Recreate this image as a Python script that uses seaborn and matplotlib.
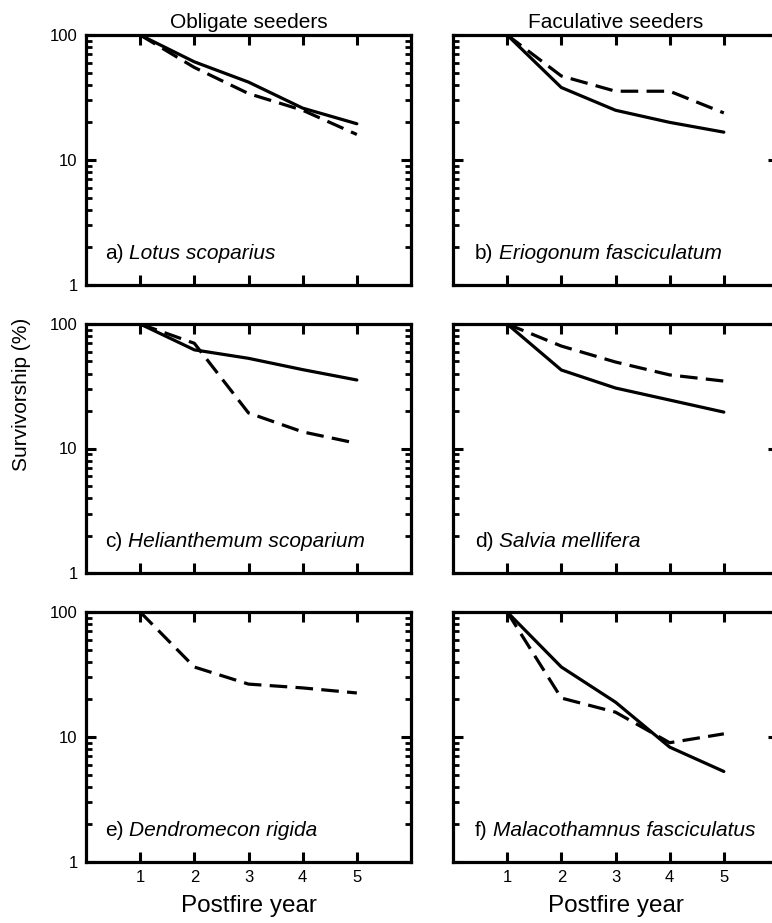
import numpy as np
import pandas as pd
import matplotlib
matplotlib.use("Agg")
import matplotlib.pyplot as plt
import seaborn as sns
from matplotlib.ticker import LogLocator, FixedLocator, FuncFormatter, NullFormatter

# ---------------- data ----------------
years = [1, 2, 3, 4, 5]
column_titles = ["Obligate seeders", "Faculative seeders"]
panel_letters = ["a)", "b)", "c)", "d)", "e)", "f)"]
species = ["Lotus scoparius", "Eriogonum fasciculatum",
           "Helianthemum scoparium", "Salvia mellifera",
           "Dendromecon rigida", "Malacothamnus fasciculatus"]

a_solid = [100, 61, 42, 26, 19.5]
a_dashed = [100, 55, 34, 25, 16]
b_solid = [100, 38, 25, 20, 16.7]
b_dashed = [100, 47, 35.5, 35.5, 23.8]
c_solid = [100, 62, 53, 43, 35.5]
c_dashed = [100, 70, 19.3, 13.6, 11]
d_solid = [100, 42.7, 30.6, 24.5, 19.6]
d_dashed = [100, 66.5, 49.5, 39, 34.8]
e_solid = None
e_dashed = [100, 36.3, 26.5, 24.7, 22.5]
f_solid = [100, 36.3, 19, 8.3, 5.3]
f_dashed = [100, 20.5, 15.8, 9, 10.6]

panels = [(a_solid, a_dashed), (b_solid, b_dashed), (c_solid, c_dashed),
          (d_solid, d_dashed), (e_solid, e_dashed), (f_solid, f_dashed)]

x_ticks = [1, 2, 3, 4, 5]
y_ticks = [1, 10, 100]

# ---------------- style ----------------
sns.set_style("ticks")
plt.rcParams["font.family"] = ["Liberation Sans", "DejaVu Sans"]
plt.rcParams["axes.linewidth"] = 2.3
plt.rcParams["text.color"] = "black"
plt.rcParams["axes.labelcolor"] = "black"
plt.rcParams["xtick.color"] = "black"
plt.rcParams["ytick.color"] = "black"

fig = plt.figure(figsize=(7.72, 9.23), dpi=100)
W, H = 772, 923

col_x = [86, 453]
col_w = 325
rows = [(35, 285), (324, 573), (612, 862)]

dash_map = {"solid": "", "dashed": (5.5, 2.6)}

for i, (solid, dashed) in enumerate(panels):
    r, c = divmod(i, 2)
    top, bot = rows[r]
    ax = fig.add_axes([col_x[c] / W, 1 - bot / H, col_w / W, (bot - top) / H])

    frames = []
    if solid is not None:
        frames.append(pd.DataFrame({"year": years, "surv": solid, "line": "solid"}))
    if dashed is not None:
        frames.append(pd.DataFrame({"year": years, "surv": dashed, "line": "dashed"}))
    df = pd.concat(frames, ignore_index=True)
    present = list(df["line"].unique())
    sns.lineplot(data=df, x="year", y="surv", style="line", style_order=present,
                 dashes={k: dash_map[k] for k in present}, color="black",
                 linewidth=2.3, legend=False, ax=ax, sort=False)

    ax.set_yscale("log")
    ax.set_ylim(1, 100)
    ax.set_xlim(0, 6)
    ax.xaxis.set_major_locator(FixedLocator(x_ticks))
    ax.yaxis.set_major_locator(FixedLocator(y_ticks))
    ax.yaxis.set_minor_locator(LogLocator(base=10, subs=np.arange(2, 10)))
    ax.yaxis.set_minor_formatter(NullFormatter())
    ax.yaxis.set_major_formatter(FuncFormatter(lambda v, p: f"{int(round(v))}"))

    ax.tick_params(which="both", direction="in", top=True, right=True,
                   bottom=True, left=True, colors="black", labelsize=12)
    ax.tick_params(which="major", length=7, width=2.2, pad=6)
    ax.tick_params(which="minor", length=4.2, width=2.0)
    for s in ax.spines.values():
        s.set_linewidth(2.3)
        s.set_color("black")

    ax.set_xlabel("")
    ax.set_ylabel("")
    if c == 1:
        ax.tick_params(labelleft=False)
    if r < 2:
        ax.tick_params(labelbottom=False)
    else:
        ax.set_xlabel("Postfire year", fontsize=17.5, labelpad=7, color="black")
    if r == 0:
        ax.set_title(column_titles[c], fontsize=15, pad=5, color="black")

    lx = 0.058 if c == 0 else 0.068
    t = ax.text(lx, 0.105, panel_letters[i], transform=ax.transAxes,
                fontsize=15, ha="left", va="baseline", color="black")
    ax.annotate(species[i], xy=(1, 0), xycoords=t, xytext=(4, 0),
                textcoords="offset points", fontsize=15, style="italic",
                ha="left", va="bottom", color="black")

fig.text(22 / W, 1 - 394 / H, "Survivorship (%)", rotation=90, fontsize=15,
         ha="center", va="center", color="black")

fig.savefig("out.png", dpi=100)
